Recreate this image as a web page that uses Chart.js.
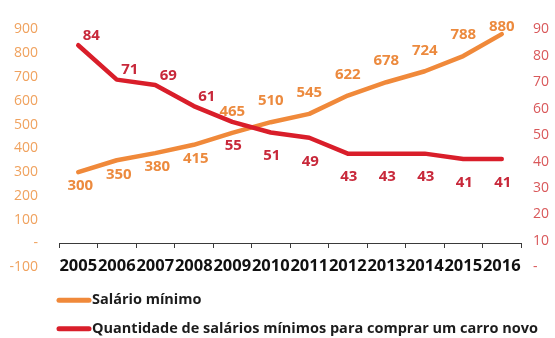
<!DOCTYPE html>
<html>
<head>
<meta charset="utf-8">
<script src="https://cdn.jsdelivr.net/npm/chart.js@4/dist/chart.umd.min.js"></script>
<style>
  html, body { margin: 0; padding: 0; background: #ffffff; }
  canvas { display: block; }
</style>
</head>
<body>
<canvas id="chart" width="555" height="338"></canvas>
<script>
// Brazilian minimum wage (R$) and how many minimum wages a new car costs
const years = ['2005', '2006', '2007', '2008', '2009', '2010', '2011', '2012', '2013', '2014', '2015', '2016'];
const minimumWage = [300, 350, 380, 415, 465, 510, 545, 622, 678, 724, 788, 880];
const wagesPerCar = [84, 71, 69, 61, 55, 51, 49, 43, 43, 43, 41, 41];
const seriesNames = ['Salário mínimo', 'Quantidade de salários mínimos para comprar um carro novo'];

// Where each value label sits relative to its point
const wageLabelSpots = ['below', 'below', 'below', 'below', 'above', 'above', 'above', 'above', 'above', 'above', 'above', 'above'];
const carLabelSpots = ['aboveRight', 'aboveRight', 'aboveRight', 'aboveRight', 'below', 'below', 'below', 'below', 'below', 'below', 'below', 'below'];

const FONT = "'Open Sans', 'Liberation Sans', sans-serif";
const ORANGE = '#F0893A';
const RED = '#D91E2A';

// Accounting-style zero: a dash instead of 0
const dashZero = v => (v === 0 ? '-' : String(v));

const valueLabels = {
  id: 'valueLabels',
  afterDatasetsDraw(chart) {
    const ctx = chart.ctx;
    const top = chart.chartArea.top;
    chart.data.datasets.forEach((ds, i) => {
      const meta = chart.getDatasetMeta(i);
      const spots = ds.labelSpots;
      ctx.save();
      ctx.font = 'bold 15px ' + FONT;
      ctx.fillStyle = ds.labelColor;
      ctx.textAlign = 'center';
      ctx.textBaseline = 'middle';
      meta.data.forEach((pt, j) => {
        const s = ds.spotShifts[spots[j]];
        const x = pt.x + s[0];
        const y = Math.max(pt.y + s[1], top - 3);
        ctx.fillText(String(ds.data[j]), x, y);
      });
      ctx.restore();
    });
  }
};

const bottomLegend = {
  id: 'bottomLegend',
  afterDraw(chart) {
    const ctx = chart.ctx;
    const area = chart.chartArea;
    chart.data.datasets.forEach((ds, i) => {
      const y = area.bottom + 33 + i * 28.5;
      ctx.save();
      ctx.strokeStyle = ds.borderColor;
      ctx.lineWidth = 5;
      ctx.lineCap = 'round';
      ctx.beginPath();
      ctx.moveTo(area.left, y);
      ctx.lineTo(area.left + 30, y);
      ctx.stroke();
      ctx.fillStyle = '#1c1c1c';
      ctx.font = 'bold 14.5px ' + FONT;
      ctx.textAlign = 'left';
      ctx.textBaseline = 'middle';
      ctx.fillText(ds.label, area.left + 33, y);
      ctx.restore();
    });
  }
};

new Chart(document.getElementById('chart'), {
  type: 'line',
  data: {
    labels: years,
    datasets: [
      {
        label: seriesNames[0],
        data: minimumWage,
        yAxisID: 'y',
        borderColor: ORANGE,
        borderWidth: 4.5,
        pointRadius: 0,
        tension: 0,
        borderJoinStyle: 'round',
        borderCapStyle: 'round',
        order: 1,
        labelColor: '#EC8A3E',
        labelSpots: wageLabelSpots,
        spotShifts: { below: [2, 14], above: [0, -21] }
      },
      {
        label: seriesNames[1],
        data: wagesPerCar,
        yAxisID: 'y1',
        borderColor: RED,
        borderWidth: 4.5,
        pointRadius: 0,
        tension: 0,
        borderJoinStyle: 'round',
        borderCapStyle: 'round',
        order: 0,
        labelColor: '#C8283A',
        labelSpots: carLabelSpots,
        spotShifts: { below: [1, 23.5], aboveRight: [13, -9.5] }
      }
    ]
  },
  options: {
    responsive: false,
    animation: false,
    layout: { padding: { top: 22.7, bottom: 70.7, left: 0, right: 0 } },
    plugins: {
      legend: { display: false },
      tooltip: { enabled: false }
    },
    scales: {
      x: {
        type: 'category',
        position: { y: 0 },
        offset: true,
        grid: {
          offset: true,
          drawOnChartArea: false,
          drawTicks: true,
          tickLength: 4,
          color: '#3a3a3a',
          lineWidth: 1
        },
        border: { display: true, color: '#3a3a3a', width: 1 },
        ticks: {
          autoSkip: false,
          maxRotation: 0,
          minRotation: 0,
          padding: 9,
          color: '#111111',
          font: { family: FONT, size: 16.5, weight: 'bold' }
        }
      },
      y: {
        type: 'linear',
        position: 'left',
        min: -100,
        max: 900,
        afterFit: s => { s.width = 59; },
        grid: { display: false, drawTicks: false },
        border: { display: false },
        ticks: {
          stepSize: 100,
          padding: 21,
          color: '#F0A25E',
          font: { family: FONT, size: 14 },
          callback: dashZero
        }
      },
      y1: {
        type: 'linear',
        position: 'right',
        min: 0,
        max: 90,
        afterFit: s => { s.width = 34; },
        grid: { display: false, drawTicks: false },
        border: { display: false },
        ticks: {
          stepSize: 10,
          padding: 12,
          color: '#D9585A',
          font: { family: FONT, size: 14 },
          callback: dashZero
        }
      }
    }
  },
  plugins: [valueLabels, bottomLegend]
});
</script>
</body>
</html>
